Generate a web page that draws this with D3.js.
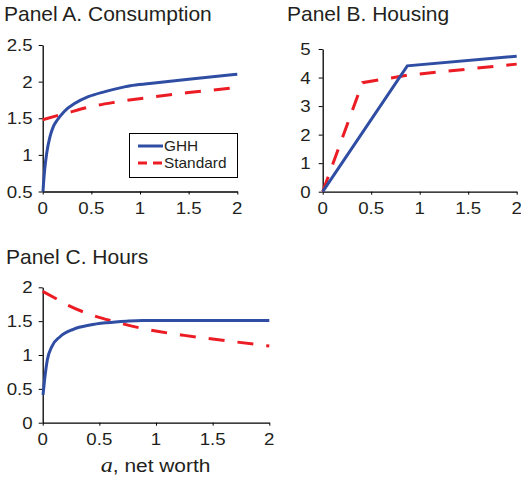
<!DOCTYPE html>
<html><head><meta charset="utf-8">
<script src="https://cdn.jsdelivr.net/npm/d3@7/dist/d3.min.js"></script>
<style>body{margin:0;background:#fff}svg{display:block}</style>
</head><body>
<svg id="c" width="521" height="479"></svg>
<script>
// ---- data ----
const consGHH_x = [0.003, 0.008, 0.020, 0.041, 0.075, 0.109, 0.150, 0.219, 0.332, 0.469, 0.640, 0.829, 0.9, 1.1, 1.5, 2];
const consGHH_y = [0.5, 0.6, 0.794, 1.022, 1.248, 1.385, 1.476, 1.59, 1.704, 1.794, 1.863, 1.925, 1.945, 1.974, 2.033, 2.1];
const consStd_x = [0, 0.25, 0.5, 0.75, 1.1, 1.5, 2];
const consStd_y = [1.48, 1.572, 1.66, 1.72, 1.786, 1.85, 1.92];
const housGHH_x = [0, 0.872, 2];
const housGHH_y = [0, 4.41, 4.75];
const housStd_x = [0, 0.41, 0.87, 2];
const housStd_y = [0, 3.82, 4.08, 4.47];
const hourGHH_x = [0.003, 0.02, 0.041, 0.079, 0.153, 0.27, 0.417, 0.565, 0.74, 0.88, 1.2, 2];
const hourGHH_y = [0.41, 0.68, 0.93, 1.12, 1.27, 1.38, 1.443, 1.477, 1.50, 1.51, 1.51, 1.51];
const hourStd_x = [0, 0.12, 0.23, 0.4, 0.65, 0.9, 1.25, 1.5, 2];
const hourStd_y = [1.94, 1.83, 1.73, 1.61, 1.485, 1.385, 1.29, 1.236, 1.133];
const xTicks = [0, 0.5, 1, 1.5, 2];
const consTicks = [0.5, 1, 1.5, 2, 2.5];
const housTicks = [0, 1, 2, 3, 4, 5];
const hourTicks = [0, 0.5, 1, 1.5, 2];
const seriesNames = ["GHH", "Standard"];
const titles = ["Panel A. Consumption", "Panel B. Housing", "Panel C. Hours"];
const xLabelItalic = "a";
const xLabelRest = ", net worth";

// ---- style ----
const BLUE = "#2f4ea3", RED = "#ec1c24", INK = "#231f20";
const FONT = "'Liberation Sans', Arial, Helvetica, sans-serif";
const SX = 1.1;      // horizontal stretch of the reference text
const svg = d3.select("#c");

function stext(g, x, y, str, size, anchor, sx) {
  return g.append("text")
    .attr("transform", `translate(${x},${y}) scale(${sx},1)`)
    .attr("text-anchor", anchor)
    .attr("font-family", FONT)
    .attr("font-size", size)
    .attr("fill", INK)
    .text(str);
}

function panel(cfg) {
  const g = svg.append("g");
  const x = d3.scaleLinear().domain([0, 2]).range([cfg.x0, cfg.x1]);
  const y = d3.scaleLinear().domain(cfg.ydom).range([cfg.y0, cfg.y1]);
  const ax = g.append("g").attr("transform", `translate(0,${cfg.y0})`)
    .call(d3.axisBottom(x).tickValues(xTicks).tickSize(3).tickSizeOuter(0).tickFormat(""));
  const ay = g.append("g").attr("transform", `translate(${cfg.x0},0)`)
    .call(d3.axisLeft(y).tickValues(cfg.yticks).tickSize(4).tickSizeOuter(0).tickFormat(""));
  [ax, ay].forEach(a => {
    a.select(".domain").attr("stroke", "#000").attr("stroke-width", 1.3);
    a.selectAll(".tick line").attr("stroke", "#000").attr("stroke-width", 1);
  });
  xTicks.forEach(t => stext(g, x(t), cfg.y0 + 22.5, d3.format("")(t), 17, "middle", SX));
  cfg.yticks.forEach(t => stext(g, cfg.x0 - cfg.ylabGap, y(t) + 6, d3.format("")(t), 17, "end", SX));
  stext(g, cfg.tx, cfg.ty, cfg.title, 20, "start", 1.05);
  const lineC = d3.line().x(d => x(d[0])).y(d => y(d[1])).curve(d3.curveMonotoneX);
  const lineL = d3.line().x(d => x(d[0])).y(d => y(d[1]));
  g.append("path").datum(d3.zip(cfg.sx_, cfg.sy_))
    .attr("d", cfg.linear ? lineL : lineC).attr("fill", "none")
    .attr("stroke", RED).attr("stroke-width", 3).attr("stroke-dasharray", "16,13");
  g.append("path").datum(d3.zip(cfg.gx, cfg.gy))
    .attr("d", cfg.linear ? lineL : lineC).attr("fill", "none")
    .attr("stroke", BLUE).attr("stroke-width", 3);
  return {g, x, y};
}

const A = panel({x0: 42.7, x1: 237.3, y0: 191.5, y1: 45, ydom: [0.5, 2.5], yticks: consTicks, ylabGap: 10,
  tx: 4, ty: 21, title: titles[0], gx: consGHH_x, gy: consGHH_y, sx_: consStd_x, sy_: consStd_y});
panel({x0: 322.7, x1: 516.7, y0: 191.7, y1: 49, ydom: [0, 5], yticks: housTicks, ylabGap: 12,
  tx: 287, ty: 21, title: titles[1], gx: housGHH_x, gy: housGHH_y, sx_: housStd_x, sy_: housStd_y, linear: true});
const C = panel({x0: 42.7, x1: 269.3, y0: 422.7, y1: 287.3, ydom: [0, 2], yticks: hourTicks, ylabGap: 10,
  tx: 6, ty: 264, title: titles[2], gx: hourGHH_x, gy: hourGHH_y, sx_: hourStd_x, sy_: hourStd_y});

// x-axis label of panel C
const xl = C.g.append("text")
  .attr("transform", `translate(155.5,471.5) scale(1.1,1)`)
  .attr("text-anchor", "middle").attr("font-family", FONT).attr("font-size", 19).attr("fill", INK);
xl.append("tspan").attr("font-family", "'Liberation Serif', 'Times New Roman', serif").attr("font-style", "italic").attr("font-size", 22).text(xLabelItalic);
xl.append("tspan").text(xLabelRest);

// legend in panel A
const lg = A.g.append("g");
lg.append("rect").attr("x", 129.5).attr("y", 133.5).attr("width", 108).attr("height", 44)
  .attr("fill", "#fff").attr("stroke", "#000").attr("stroke-width", 1);
[[BLUE, null, 146], [RED, "9,6", 163]].forEach((s, i) => {
  const l = lg.append("line").attr("x1", 138).attr("x2", 163).attr("y1", s[2]).attr("y2", s[2])
    .attr("stroke", s[0]).attr("stroke-width", 3);
  if (s[1]) l.attr("stroke-dasharray", s[1]);
  stext(lg, 164, s[2] + 5, seriesNames[i], 14, "start", 1.1);
});
</script>
</body></html>
